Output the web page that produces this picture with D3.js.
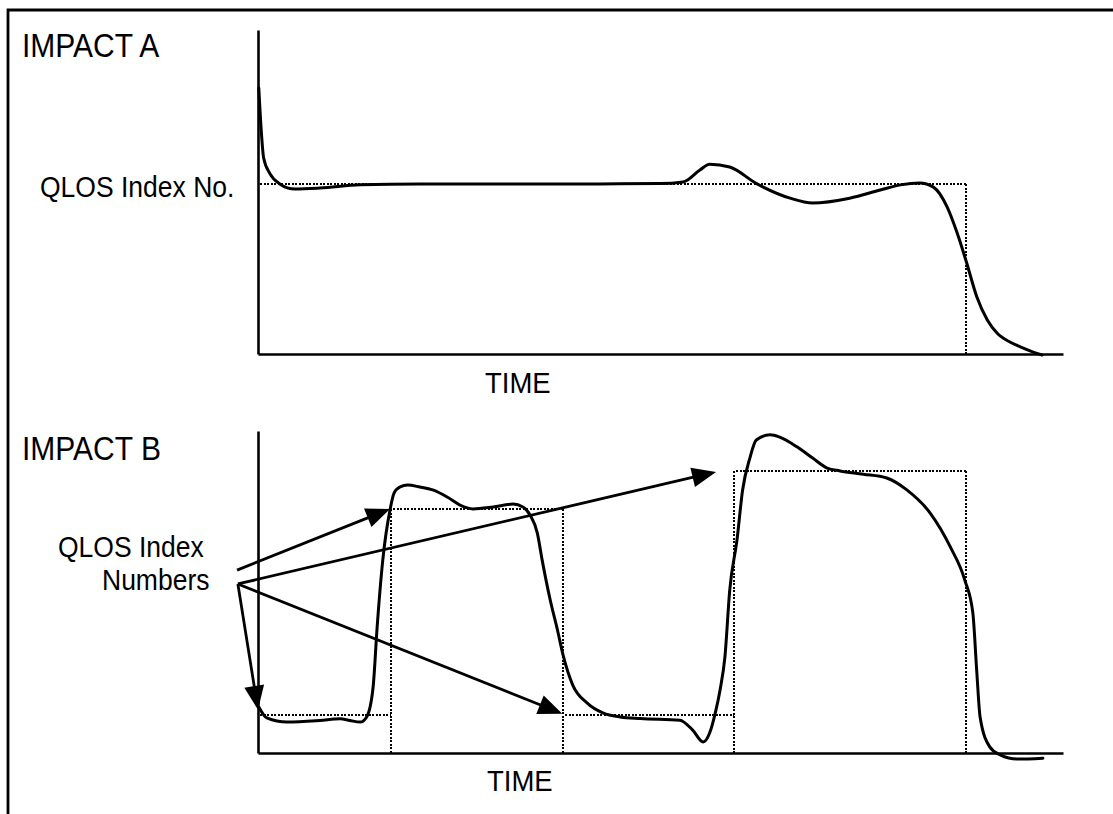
<!DOCTYPE html>
<html><head><meta charset="utf-8">
<script src="https://cdn.jsdelivr.net/npm/d3@7"></script>
<style>
body{margin:0;background:#fff}
text{font-family:"Liberation Sans",Arial,Helvetica,sans-serif;fill:#000}
</style></head>
<body><svg id="c" width="1113" height="814"></svg>
<script>
// ---- data (time units 0..100, QLOS index units 0..100) ----
const timeA = [0.1,0.4,0.7,1.5,2.7,4.6,7.7,12.7,20.1,30.1,42.5,49.9,52.8,54.9,56.1,58.6,62.0,66.1,68.9,73.5,77.3,79.8,82.2,83.9,85.6,86.8,88.0,89.3,90.6,91.8,93.4,94.7,96.3,97.4];
const qlosA = [82.1,69.1,60.5,55.6,52.5,50.9,51.2,52.2,52.5,52.5,52.5,52.6,53.1,56.8,58.6,57.7,52.5,48.1,46.6,48.1,50.6,52.2,52.8,51.5,45.4,37.7,28.4,17.6,10.5,6.5,3.7,2.2,0.6,-0.3];

const timeB = [0.1,1.1,3.6,7.7,10.2,11.4,12.7,13.5,14.3,14.8,15.5,16.4,16.9,17.6,18.6,20.1,21.7,23.5,25.1,26.7,29.2,31.7,32.9,33.8,34.7,35.3,36.3,37.2,37.9,39.1,40.9,42.9,45.0,47.5,52.4,54.0,55.3,56.1,56.8,57.4,58.0,58.6,59.5,60.2,61.1,61.9,63.6,64.8,67.0,68.9,70.7,72.3,75.2,78.1,80.6,83.5,86.0,87.8,88.8,89.3,89.7,90.9,92.2,94.3,97.5];
const qlosB = [14.3,10.9,9.6,10.1,10.6,10.1,9.6,11.2,20.5,39.1,59.9,75.5,80.7,82.6,83.2,82.6,81.7,79.5,77.0,75.8,76.4,77.3,76.4,73.9,68.3,59.9,47.5,38.2,30.4,21.1,15.5,12.4,11.2,10.7,10.2,7.1,3.4,6.2,12.4,19.6,29.8,50.6,66.1,81.7,91.6,97.2,98.8,98.1,95.0,91.6,88.5,87.6,86.6,85.4,81.7,74.5,64.0,53.7,43.5,24.8,11.2,1.9,-0.6,-1.9,-1.6];

// index-number step levels (start time, end time, level)
const stepStartA = [0];
const stepEndA   = [88.0];
const stepLevelA = [52.5];
const stepStartB = [0, 16.5, 37.9, 59.1];
const stepEndB   = [16.5, 37.9, 59.1, 88.0];
const stepLevelB = [11.8, 75.8, 11.8, 87.6];

// annotation arrows in panel B (from label -> index level)
const arrowFromT = [-2.6, -2.5, -2.5, -2.5];
const arrowFromV = [56.8, 52.5, 52.5, 52.5];
const arrowToT   = [16.4, 56.9, 0.0, 37.8];
const arrowToV   = [75.8, 87.3, 13.4, 12.2];

const labelsA = {title:"IMPACT A", y:"QLOS Index No.", x:"TIME"};
const labelsB = {title:"IMPACT B", y1:"QLOS Index", y2:"Numbers", x:"TIME"};

// ---- drawing ----
const svg = d3.select("#c");
svg.append("rect").attr("width",1113).attr("height",814).attr("fill","#fff");

// frame
svg.append("path").attr("d","M8,814 L8,10 L1113,10").attr("fill","none").attr("stroke","#000").attr("stroke-width",2.8);

const x = d3.scaleLinear().domain([0,100]).range([258,1063]);
const yA = d3.scaleLinear().domain([0,100]).range([354,30]);
const yB = d3.scaleLinear().domain([0,100]).range([753,431]);

function panel(y, time, qlos, s0, s1, lv){
  const g = svg.append("g");
  g.append("g").attr("transform",`translate(0,${y(0)})`)
    .call(d3.axisBottom(x).ticks(0).tickSizeOuter(0))
    .call(a=>a.select(".domain").attr("stroke","#000").attr("stroke-width",2.6));
  g.append("g").attr("transform",`translate(${x(0)},0)`)
    .call(d3.axisLeft(y).ticks(0).tickSizeOuter(0))
    .call(a=>a.select(".domain").attr("stroke","#000").attr("stroke-width",2.6));
  const dot = {stroke:"#000","stroke-width":2,"stroke-dasharray":"2 1.5",fill:"none","shape-rendering":"crispEdges"};
  const put = (sel)=>{for(const k in dot) sel.attr(k,dot[k]); return sel;};
  const r = v=>Math.round(v);
  for(let i=0;i<lv.length;i++){
    put(g.append("line").attr("x1",r(x(s0[i])+2)).attr("x2",r(x(s1[i]))).attr("y1",r(y(lv[i]))).attr("y2",r(y(lv[i]))));
    const nxt = i+1<lv.length ? lv[i+1] : 0;
    put(g.append("line").attr("x1",r(x(s1[i]))).attr("x2",r(x(s1[i]))).attr("y1",r(y(Math.max(lv[i],nxt)))).attr("y2",r(y(0))));
  }
  const pts = time.map((t,i)=>[t,qlos[i]]);
  g.append("path").datum(pts)
    .attr("d", d3.line().x(d=>x(d[0])).y(d=>y(d[1])).curve(d3.curveMonotoneX))
    .attr("fill","none").attr("stroke","#000").attr("stroke-width",3).attr("stroke-linejoin","round").attr("stroke-linecap","round");
  return g;
}
panel(yA, timeA, qlosA, stepStartA, stepEndA, stepLevelA);
panel(yB, timeB, qlosB, stepStartB, stepEndB, stepLevelB);

// arrows
for(let i=0;i<arrowFromT.length;i++){
  const x1=x(arrowFromT[i]), y1=yB(arrowFromV[i]), x2=x(arrowToT[i]), y2=yB(arrowToV[i]);
  const ang=Math.atan2(y2-y1,x2-x1), L=24, W=10;
  const bx=x2-L*Math.cos(ang), by=y2-L*Math.sin(ang);
  svg.append("line").attr("x1",x1).attr("y1",y1).attr("x2",bx+4*Math.cos(ang)).attr("y2",by+4*Math.sin(ang))
    .attr("stroke","#000").attr("stroke-width",2.8);
  const px=-Math.sin(ang), py=Math.cos(ang);
  svg.append("polygon").attr("points",[[x2,y2],[bx+W*px,by+W*py],[bx-W*px,by-W*py]].map(p=>p.join(",")).join(" "))
    .attr("fill","#000");
}

// texts (slightly tall letterforms as in the reference)
const T=(s,xx,yy,fs)=>svg.append("text").attr("transform",`translate(${xx},${yy}) scale(1,1.08)`).attr("font-size",fs).text(s);
T(labelsA.title,22,57,30);
T(labelsA.y,40,197,26.5);
T(labelsA.x,485,393,27.5);
T(labelsB.title,22,460,30);
T(labelsB.y1,58,557,26.5);
T(labelsB.y2,102,590,26.5);
T(labelsB.x,487,791,27.5);
</script></body></html>
